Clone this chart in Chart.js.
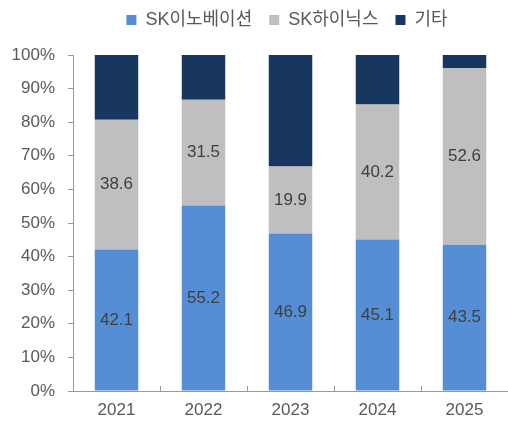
<!DOCTYPE html>
<html><head><meta charset="utf-8">
<script src="https://cdn.jsdelivr.net/npm/chart.js@4"></script>
<style>html,body{margin:0;padding:0;background:#fff}#w{width:508px;height:423px}</style>
</head><body><div id="w"><canvas id="c" width="508" height="423"></canvas></div>
<script>
const categories = ['2021','2022','2023','2024','2025'];
const skInno = [42.1, 55.2, 46.9, 45.1, 43.5];
const skHynix = [38.6, 31.5, 19.9, 40.2, 52.6];
const others = [19.3, 13.3, 33.2, 14.7, 3.9];
const seriesNames = ['SK이노베이션','SK하이닉스','기타'];
const yTicks = [0,10,20,30,40,50,60,70,80,90,100];

const FONT = "'Liberation Sans', 'Noto Sans CJK KR', sans-serif";

const labelPlugin = {
  id: 'barLabels',
  afterDatasetsDraw(chart) {
    const ctx = chart.ctx;
    ctx.save();
    ctx.font = "17px " + FONT;
    ctx.fillStyle = '#404040';
    ctx.textAlign = 'center';
    ctx.textBaseline = 'middle';
    [0,1].forEach(di => {
      const meta = chart.getDatasetMeta(di);
      meta.data.forEach((bar, i) => {
        const v = chart.data.datasets[di].data[i];
        const p = bar.getProps(['x','y','base'], true);
        ctx.fillText(v.toFixed(1), p.x, (p.y + p.base) / 2);
      });
    });
    ctx.restore();
  }
};

const innerTicks = {
  id: 'innerTicks',
  afterDraw(chart) {
    const ctx = chart.ctx;
    const xs = chart.scales.x;
    const area = chart.chartArea;
    ctx.save();
    ctx.strokeStyle = '#999999';
    ctx.lineWidth = 1;
    for (let i = 0; i < categories.length; i++) {
      const x = Math.round(xs.getPixelForValue(i) + (xs.getPixelForValue(1) - xs.getPixelForValue(0)) / 2) + 0.5;
      ctx.beginPath();
      ctx.moveTo(x, area.bottom);
      ctx.lineTo(x, area.bottom - 5);
      ctx.stroke();
    }
    ctx.restore();
  }
};

const legendLayout = {
  id: 'legendLayout',
  beforeInit(chart) {
    const lg = chart.legend;
    if (lg) {
      const origFit = lg.fit;
      lg.fit = function () { origFit.call(this); this.height = 61; };
    }
  },
  afterLayout(chart) {
    const lg = chart.legend;
    lg.left = 66; lg.right = 508; lg.width = 442;
  }
};

new Chart(document.getElementById('c'), {
  type: 'bar',
  data: {
    labels: categories,
    datasets: [
      { label: seriesNames[0], data: skInno, backgroundColor: '#558ED5' },
      { label: seriesNames[1], data: skHynix, backgroundColor: '#BFBFBF' },
      { label: seriesNames[2], data: others, backgroundColor: '#17375E' }
    ]
  },
  options: {
    responsive: false,
    animation: false,
    devicePixelRatio: 1,
    layout: { padding: { left: 0, right: 0, top: -6, bottom: 0 } },
    datasets: { bar: { barPercentage: 0.5, categoryPercentage: 1.0 } },
    plugins: {
      tooltip: { enabled: false },
      legend: {
        position: 'top',
        labels: {
          font: { size: 18, family: FONT },
          color: '#595959',
          boxWidth: 10, boxHeight: 10,
          padding: 17
        }
      }
    },
    scales: {
      x: {
        stacked: true,
        afterFit(s) { s.height = 32; },
        grid: { display: false, drawTicks: false },
        border: { color: '#999999' },
        ticks: { color: '#595959', font: { size: 17, family: FONT }, padding: 9 }
      },
      y: {
        stacked: true,
        min: 0, max: 100,
        afterBuildTicks(s) { s.ticks = yTicks.map(v => ({ value: v })); },
        afterFit(s) { s.width = 73; },
        grid: { drawOnChartArea: false, tickLength: 5, color: '#999999' },
        border: { color: '#999999' },
        ticks: { color: '#595959', font: { size: 17, family: FONT }, padding: 13, callback: v => v + '%' }
      }
    }
  },
  plugins: [labelPlugin, innerTicks, legendLayout]
});
</script>
</body></html>
